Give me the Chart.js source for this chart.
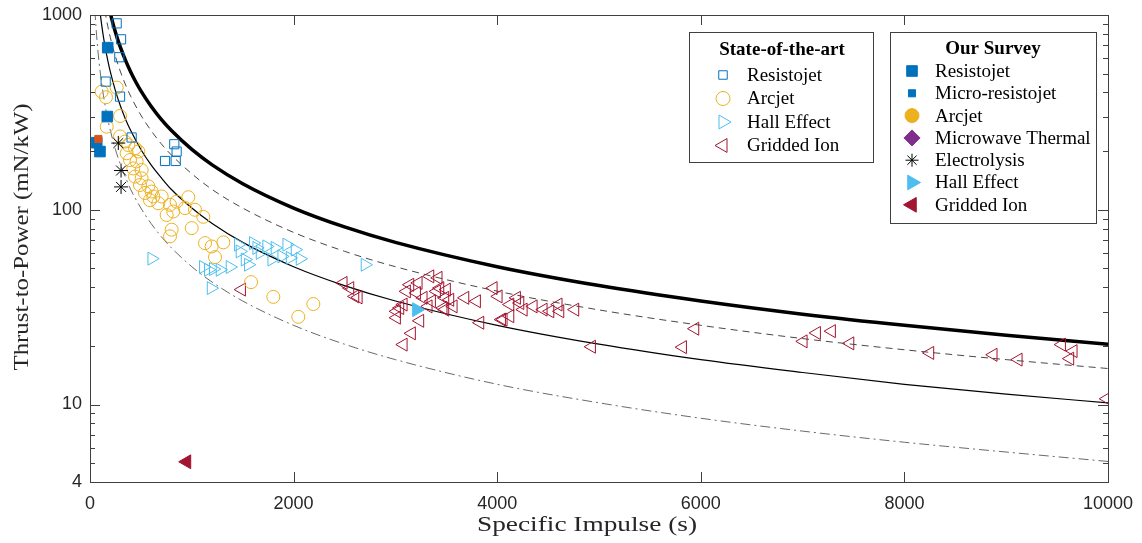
<!DOCTYPE html>
<html lang="en">
<head>
<meta charset="UTF-8">
<title>Thrust-to-Power vs Specific Impulse</title>
<script src="https://cdn.jsdelivr.net/npm/chart.js@4"></script>
<style>
  * { margin: 0; padding: 0; box-sizing: border-box; }
  body { background: #fff; width: 1142px; height: 543px; overflow: hidden; }
  canvas { display: block; }
</style>
</head>
<body>
<canvas id="chart" width="1142" height="543"></canvas>
<script>
// State-of-the-art thrusters (Isp in s, T/P in mN/kW)
const RES_SOTA_ISP = [262, 305, 288, 154, 295, 409, 828, 851, 737, 842];
const RES_SOTA_TP  = [906, 750, 607, 455, 381, 235, 217, 199, 178, 178];

const ARC_SOTA_ISP = [115, 262, 157, 295, 164, 295, 344, 376, 442, 475, 360, 393, 458, 507, 425,
  442, 507, 491, 573, 606, 540, 622, 704, 589, 671, 786, 851, 966, 753, 818, 933, 1031, 1113, 999,
  802, 786, 1130, 1195, 1310, 1228, 1582, 1801, 2046, 2194];
const ARC_SOTA_TP  = [404, 424, 378, 303, 267, 238, 224, 215, 207, 199, 195, 180, 177, 160, 163,
  148, 145, 134, 132, 124, 122, 117, 117, 112, 108, 106, 110, 116, 94, 98, 102, 100, 92, 80.5,
  79, 73, 67.4, 64.8, 68, 57.1, 42.5, 35.7, 28.2, 32.8];

const HALL_SOTA_ISP = [606, 1189, 1113, 1162, 1211, 1277, 1375, 1457, 1473, 1523, 1555, 1604, 1637,
  1670, 1735, 1785, 1817, 1883, 1932, 1965, 2014, 2063, 2701];
const HALL_SOTA_TP  = [56.1, 39.6, 50.8, 49.2, 49.6, 49.2, 50.8, 66.2, 61.1, 55.5, 52.2, 67.4, 63.7,
  60, 64.8, 55.5, 63.7, 57.6, 66.2, 56.6, 62.4, 56, 52.2];

const ION_SOTA_ISP = [1490, 2488, 2554, 2603, 2636, 3045, 3012, 3012, 3078, 3110, 3143, 3225, 3340,
  3421, 3209, 3405, 3503, 3487, 3536, 3356, 3274, 3323, 3487, 3684, 3798, 3962, 4011, 4044, 3831,
  4126, 3241, 3159, 3078, 3438, 3569, 3470, 4191, 4224, 4355, 4600, 4617, 4519, 4764, 4126, 4060,
  4257, 4453, 4928, 5943, 5822, 7007, 7138, 7285, 7466, 8251, 8873, 9119, 9545, 9659, 9626, 9987];
const ION_SOTA_TP  = [38.9, 42.1, 39.6, 35.9, 35.5, 31.3, 30.1, 27.9, 32.6, 38.1, 41.2, 42.1, 45.5,
  44.7, 37.4, 38.1, 38.9, 35.3, 34.5, 33.9, 35.3, 31.9, 30.7, 35.3, 33.9, 39.6, 35.9, 27.3, 26.3,
  32.6, 26.9, 23.2, 20.3, 39.6, 31.9, 31.3, 35.3, 33.2, 31.9, 32.6, 30.1, 30.1, 30.7, 28.4, 27.3,
  30.7, 30.7, 19.8, 24.5, 19.7, 21.1, 23.3, 23.8, 20.6, 18.4, 18.0, 17.0, 20.3, 18.8, 17.2, 10.7];

// Our survey
const RES_OUR_ISP = [174, 170, 66, 98];
const RES_OUR_TP  = [680, 301, 221, 199];
const MICRO_OUR_ISP = [82];
const MICRO_OUR_TP  = [231];
const ELEC_OUR_ISP = [278, 305, 305];
const ELEC_OUR_TP  = [220, 159, 131];
const HALL_OUR_ISP = [3209];
const HALL_OUR_TP  = [30.7];
const ION_OUR_ISP = [950];
const ION_OUR_TP  = [5.08];

// Constant-efficiency reference curves
const EFF100_ISP = [190, 200, 225, 250, 275, 300, 350, 400, 450, 500, 600, 700, 800, 1000, 1200, 1500,
  2000, 2500, 3000, 4000, 5000, 6000, 7000, 8000, 9000, 10000];
const EFF100_TP  = [1073, 1020, 906, 816, 741, 680, 583, 510, 453, 408, 340, 291, 255, 204, 170, 136,
  102, 81.6, 68, 51, 40.8, 34, 29.1, 25.5, 22.7, 20.4];
const EFF75_ISP = [145, 150, 175, 200, 225, 250, 300, 350, 400, 500, 600, 700, 800, 1000, 1200, 1500,
  2000, 2500, 3000, 4000, 5000, 6000, 7000, 8000, 9000, 10000];
const EFF75_TP  = [1054, 1019, 874, 765, 680, 612, 510, 437, 382, 306, 255, 218, 191, 153, 127, 102,
  76.5, 61.2, 51, 38.2, 30.6, 25.5, 21.8, 19.1, 17, 15.3];
const EFF50_ISP = [95, 100, 115, 130, 150, 175, 200, 250, 300, 350, 400, 500, 600, 700, 800, 1000, 1200,
  1500, 2000, 2500, 3000, 4000, 5000, 6000, 7000, 8000, 9000, 10000];
const EFF50_TP  = [1073, 1020, 887, 784, 680, 583, 510, 408, 340, 291, 255, 204, 170, 146, 127, 102, 85,
  68, 51, 40.8, 34, 25.5, 20.4, 17, 14.6, 12.7, 11.3, 10.2];
const EFF25_ISP = [48, 50, 57, 65, 75, 90, 100, 125, 150, 175, 200, 250, 300, 350, 400, 500, 600, 700,
  800, 1000, 1200, 1500, 2000, 2500, 3000, 4000, 5000, 6000, 7000, 8000, 9000, 10000];
const EFF25_TP  = [1062, 1020, 894, 784, 680, 566, 510, 408, 340, 291, 255, 204, 170, 146, 127, 102, 85,
  72.8, 63.7, 51, 42.5, 34, 25.5, 20.4, 17, 12.7, 10.2, 8.5, 7.3, 6.4, 5.7, 5.1];

const X_TICKS = [0, 2000, 4000, 6000, 8000, 10000];
const Y_TICKS = [4, 10, 100, 1000];

const BLUE = '#0072BD', ORANGE = '#D95319', YELLOW = '#EDB120', PURPLE = '#7E2F8E';
const CYAN = '#4DBEEE', CRIMSON = '#A2142F';
const SERIF = "'Liberation Serif', 'Times New Roman', serif";
const SANS = "'Liberation Sans', Arial, sans-serif";

const pts = (xs, ys) => xs.map((x, i) => ({ x, y: ys[i] }));

function markers(xs, ys, style) {
  return Object.assign({
    data: pts(xs, ys), showLine: false, borderWidth: 1,
    backgroundColor: 'rgba(0,0,0,0)', pointHoverRadius: 0
  }, style);
}

function curve(xs, ys, style) {
  return Object.assign({
    type: 'line', data: pts(xs, ys), showLine: true, pointRadius: 0, pointHoverRadius: 0,
    borderColor: '#000', fill: false, cubicInterpolationMode: 'monotone'
  }, style);
}

const datasets = [
  markers(ION_OUR_ISP, ION_OUR_TP, { pointStyle: 'triangle', rotation: -90, pointRadius: 8, borderColor: CRIMSON, backgroundColor: CRIMSON }),
  markers(HALL_OUR_ISP, HALL_OUR_TP, { pointStyle: 'triangle', rotation: 90, pointRadius: 8, borderColor: CYAN, backgroundColor: CYAN }),
  markers(ELEC_OUR_ISP, ELEC_OUR_TP, { pointStyle: 'star', pointRadius: 7, borderColor: '#000' }),
  markers(MICRO_OUR_ISP, MICRO_OUR_TP, { pointStyle: 'rect', pointRadius: 5, borderColor: ORANGE, backgroundColor: ORANGE }),
  markers(RES_OUR_ISP, RES_OUR_TP, { pointStyle: 'rect', pointRadius: 7.5, borderColor: BLUE, backgroundColor: BLUE }),
  markers(RES_SOTA_ISP, RES_SOTA_TP, { pointStyle: 'rect', pointRadius: 6.5, borderColor: BLUE }),
  markers(ARC_SOTA_ISP, ARC_SOTA_TP, { pointStyle: 'circle', pointRadius: 6.5, borderColor: YELLOW }),
  markers(HALL_SOTA_ISP, HALL_SOTA_TP, { pointStyle: 'triangle', rotation: 90, pointRadius: 7.5, borderColor: CYAN }),
  markers(ION_SOTA_ISP, ION_SOTA_TP, { pointStyle: 'triangle', rotation: -90, pointRadius: 7.5, borderColor: CRIMSON }),
  curve(EFF100_ISP, EFF100_TP, { borderWidth: 3.5 }),
  curve(EFF75_ISP, EFF75_TP, { borderWidth: 0.9, borderColor: '#333', borderDash: [7, 5] }),
  curve(EFF50_ISP, EFF50_TP, { borderWidth: 1.2 }),
  curve(EFF25_ISP, EFF25_TP, { borderWidth: 0.8, borderColor: '#444', borderDash: [10, 4, 2, 4] })
];

// text squeezed/stretched to a given width (serif titles are set wider than Liberation)
function fitText(ctx, text, cx, cy, width, angle) {
  const w = ctx.measureText(text).width;
  ctx.save();
  ctx.translate(cx, cy);
  if (angle) ctx.rotate(angle);
  ctx.scale(width / w, 1);
  ctx.fillText(text, 0, 0);
  ctx.restore();
}

// axes box with inward ticks, axis titles
const frame = {
  id: 'frame',
  afterDraw(chart) {
    const { ctx, chartArea: a, scales: { x, y } } = chart;
    ctx.save();
    ctx.strokeStyle = '#404040';
    ctx.lineWidth = 1;
    ctx.strokeRect(Math.round(a.left) + 0.5, Math.round(a.top) + 0.5,
      Math.round(a.right - a.left), Math.round(a.bottom - a.top));
    ctx.beginPath();
    X_TICKS.forEach(v => {
      const px = Math.round(x.getPixelForValue(v)) + 0.5;
      ctx.moveTo(px, a.bottom); ctx.lineTo(px, a.bottom - 10);
      ctx.moveTo(px, a.top); ctx.lineTo(px, a.top + 10);
    });
    for (let dec = 1; dec <= 100; dec *= 10) {
      for (let m = 1; m <= 9; m++) {
        const v = m * dec;
        if (v < 4) continue;
        const len = m === 1 ? 10 : 5;
        const py = Math.round(y.getPixelForValue(v)) + 0.5;
        ctx.moveTo(a.left, py); ctx.lineTo(a.left + len, py);
        ctx.moveTo(a.right, py); ctx.lineTo(a.right - len, py);
      }
    }
    ctx.stroke();

    ctx.fillStyle = '#262626';
    ctx.font = '22px ' + SERIF;
    ctx.textAlign = 'center';
    ctx.textBaseline = 'middle';
    fitText(ctx, 'Specific Impulse (s)', 587, 525, 220, 0);
    fitText(ctx, 'Thrust-to-Power (mN/kW)', 22, 237, 267, -Math.PI / 2);
    ctx.restore();
  }
};

const LEGEND_SOTA = [
  { label: 'Resistojet', style: 'rect', r: 6, color: BLUE, filled: false },
  { label: 'Arcjet', style: 'circle', r: 7, color: YELLOW, filled: false },
  { label: 'Hall Effect', style: 'triangle', rot: 90, r: 8, color: CYAN, filled: false },
  { label: 'Gridded Ion', style: 'triangle', rot: -90, r: 8, color: CRIMSON, filled: false }
];
const LEGEND_OURS = [
  { label: 'Resistojet', style: 'rect', r: 7.5, color: BLUE, filled: true },
  { label: 'Micro-resistojet', style: 'rect', r: 5, color: BLUE, filled: true },
  { label: 'Arcjet', style: 'circle', r: 7, color: YELLOW, filled: true },
  { label: 'Microwave Thermal', style: 'rectRot', r: 8, color: PURPLE, filled: true },
  { label: 'Electrolysis', style: 'star', r: 6.5, color: '#000', filled: false },
  { label: 'Hall Effect', style: 'triangle', rot: 90, r: 8.5, color: CYAN, filled: true },
  { label: 'Gridded Ion', style: 'triangle', rot: -90, r: 8.5, color: CRIMSON, filled: true }
];

function drawLegendBox(ctx, box, title, items) {
  ctx.fillStyle = '#fff';
  ctx.fillRect(box.x, box.y, box.w, box.h);
  ctx.strokeStyle = '#404040';
  ctx.lineWidth = 1;
  ctx.strokeRect(box.x + 0.5, box.y + 0.5, box.w, box.h);
  ctx.fillStyle = '#000';
  ctx.textBaseline = 'middle';
  ctx.textAlign = 'center';
  ctx.font = 'bold 19px ' + SERIF;
  ctx.fillText(title, box.titleX, box.titleY);
  ctx.textAlign = 'left';
  ctx.font = '19px ' + SERIF;
  items.forEach((it, i) => {
    const cy = box.rowY + i * box.step;
    ctx.strokeStyle = it.color;
    ctx.fillStyle = it.filled ? it.color : 'rgba(0,0,0,0)';
    Chart.helpers.drawPoint(ctx, { pointStyle: it.style, radius: it.r, rotation: it.rot || 0, borderWidth: 1 }, box.markX, cy);
    ctx.fillStyle = '#000';
    ctx.fillText(it.label, box.textX, cy + 1);
  });
}

const legends = {
  id: 'legends',
  afterDraw(chart) {
    const ctx = chart.ctx;
    ctx.save();
    drawLegendBox(ctx, { x: 689, y: 32, w: 184, h: 130, titleX: 782, titleY: 50, rowY: 75, step: 23.5, markX: 723, textX: 747 },
      'State-of-the-art', LEGEND_SOTA);
    drawLegendBox(ctx, { x: 890, y: 32, w: 206, h: 191, titleX: 993, titleY: 49, rowY: 71, step: 22.3, markX: 912, textX: 935 },
      'Our Survey', LEGEND_OURS);
    ctx.restore();
  }
};

new Chart(document.getElementById('chart'), {
  type: 'scatter',
  data: { datasets },
  options: {
    responsive: false,
    animation: false,
    events: [],
    layout: { padding: { left: 0, right: 34, top: 15, bottom: 0 } },
    plugins: { legend: { display: false }, tooltip: { enabled: false } },
    scales: {
      x: {
        type: 'linear', min: 0, max: 10000,
        afterFit: s => { s.height = 61; s.paddingLeft = 0; s.paddingRight = 0; },
        afterBuildTicks: s => { s.ticks = X_TICKS.map(v => ({ value: v })); },
        grid: { display: false, drawTicks: false },
        border: { display: false },
        ticks: { padding: 11, maxRotation: 0, color: '#262626', font: { family: SANS, size: 18 }, callback: v => String(v) }
      },
      y: {
        type: 'logarithmic', min: 4, max: 1000,
        afterFit: s => { s.width = 90; s.paddingTop = 0; s.paddingBottom = 0; },
        afterBuildTicks: s => { s.ticks = Y_TICKS.map(v => ({ value: v })); },
        grid: { display: false, drawTicks: false },
        border: { display: false },
        ticks: { padding: 8, color: '#262626', font: { family: SANS, size: 18 }, callback: v => String(v) }
      }
    }
  },
  plugins: [frame, legends]
});
</script>
</body>
</html>
